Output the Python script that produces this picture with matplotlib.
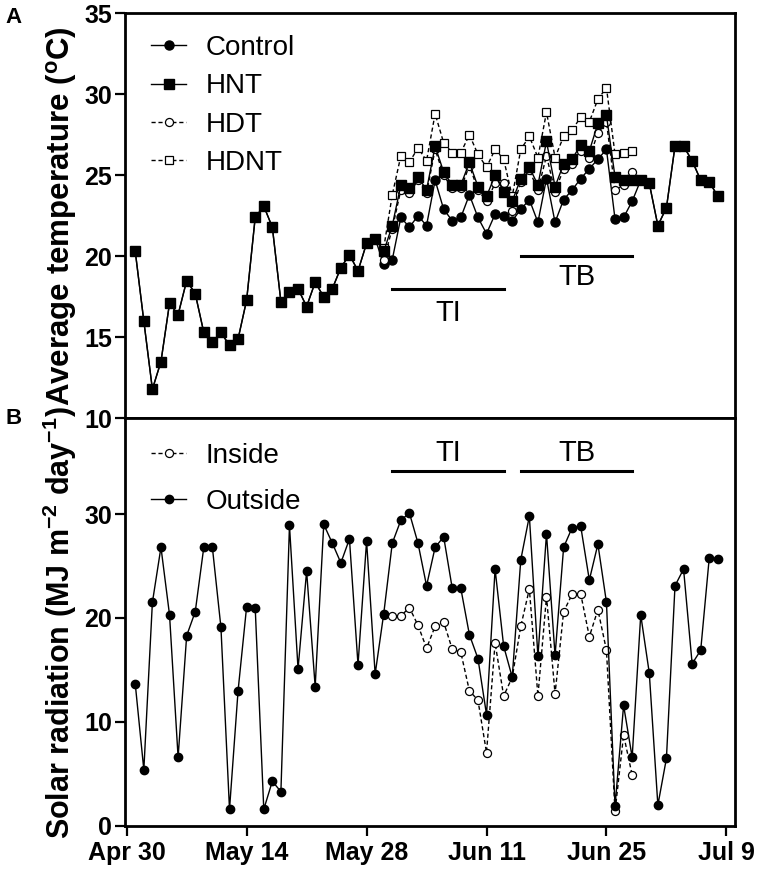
import matplotlib
matplotlib.use("Agg")
import matplotlib.pyplot as plt
import numpy as np

plt.rcParams['font.family'] = ['Liberation Sans', 'DejaVu Sans']
plt.rcParams['mathtext.fontset'] = 'custom'
plt.rcParams['mathtext.rm'] = 'Liberation Sans:bold'
plt.rcParams['mathtext.default'] = 'rm'

# days after Apr 30
tick_days = [0, 14, 28, 42, 56, 70]
tick_labels = ['Apr 30', 'May 14', 'May 28', 'Jun 11', 'Jun 25', 'Jul 9']

# average temperature, same for all chambers before and after treatments
days_pre = list(range(1, 30))
temp_pre = [20.3, 16.0, 11.8, 13.5, 17.1, 16.4, 18.5, 17.7, 15.3, 14.7,
            15.3, 14.5, 14.9, 17.3, 22.4, 23.1, 21.8, 17.2, 17.8, 18.0,
            16.9, 18.4, 17.5, 18.0, 19.3, 20.1, 19.1, 20.8, 21.1]
days_post = list(range(60, 70))
temp_post = [24.7, 24.5, 21.9, 23.0, 26.8, 26.8, 25.9, 24.7, 24.6, 23.7]

# treatment period (day 30-59)
days_trt = list(range(30, 60))
control = [19.5, 19.8, 22.4, 21.8, 22.5, 21.9, 24.7, 22.9, 22.2, 22.4,
           23.8, 22.4, 21.4, 22.6, 22.5, 22.2, 22.9, 23.5, 22.1, 24.8,
           22.1, 23.5, 24.1, 24.8, 25.4, 26.0, 26.6, 22.3, 22.4, 23.4]
hnt = [20.3, 21.9, 24.4, 24.2, 24.9, 24.1, 26.8, 25.2, 24.4, 24.4,
       25.8, 24.3, 23.7, 25.0, 24.0, 23.4, 24.8, 25.5, 24.4, 27.1,
       24.3, 25.7, 26.0, 26.9, 26.5, 28.2, 28.7, 24.9, 24.7, 24.7]
hdt = [19.8, 21.7, 24.1, 23.9, 24.7, 23.9, 26.6, 25.0, 24.2, 24.2,
       25.6, 24.1, 23.4, 24.5, 24.5, 22.8, 24.6, 25.3, 24.1, 26.2,
       24.0, 25.4, 25.7, 26.5, 26.1, 27.6, 28.3, 24.1, 24.4, 25.2]
hdnt = [20.5, 23.8, 26.2, 25.8, 26.7, 25.9, 28.8, 27.0, 26.4, 26.4,
        27.5, 26.3, 25.5, 26.6, 26.0, 23.7, 26.6, 27.4, 26.1, 28.9,
        26.1, 27.4, 27.8, 28.6, 28.3, 29.7, 30.4, 26.3, 26.4, 26.5]

# solar radiation (MJ m-2 day-1)
days_out = list(range(1, 70))
outside = [13.65, 5.4, 21.5, 26.8, 20.3, 6.6, 18.3, 20.6, 26.8, 26.8,
           19.1, 1.6, 13.0, 21.1, 21.0, 1.6, 4.3, 3.3, 28.9, 15.1,
           24.5, 13.4, 29.0, 27.2, 25.3, 27.6, 15.5, 27.4, 14.6, 20.4,
           27.2, 29.4, 30.1, 27.2, 23.1, 26.8, 27.8, 22.85, 22.85, 18.4,
           16.1, 10.7, 24.7, 17.3, 14.3, 25.6, 29.8, 16.3, 28.1, 16.4,
           26.8, 28.7, 28.8, 23.65, 27.1, 21.5, 1.9, 11.6, 6.6, 20.3,
           14.7, 2.0, 6.5, 23.1, 24.7, 15.6, 16.9, 25.8, 25.7]
days_in = list(range(30, 60))
inside = [20.3, 20.2, 20.2, 21.0, 19.3, 17.1, 19.2, 19.6, 17.0, 16.7,
          13.0, 12.1, 7.05, 17.6, 12.5, 14.3, 19.2, 22.8, 12.5, 22.05,
          12.7, 20.6, 22.3, 22.3, 18.2, 20.8, 16.9, 1.4, 8.75, 4.9]

# periods TI and TB
ti_span = (31, 44)
tb_span = (46, 59)

fig = plt.figure(figsize=(7.57, 8.71), dpi=100)
axA = fig.add_axes([0.1651, 0.5197, 0.8058, 0.465])
axB = fig.add_axes([0.1651, 0.0517, 0.8058, 0.468])

days_all = days_pre + days_trt + days_post
ms = 6.5
lw = 1.0
dash = (0, (3, 2))

axA.plot(days_all, temp_pre + control + temp_post, '-o', color='k', lw=lw,
         ms=ms, label='Control', zorder=2)
axA.plot(days_trt, hdt, linestyle=dash, marker='o', color='k', lw=lw, ms=5.8,
         mfc='white', mew=0.9, label='HDT', zorder=3)
axA.plot(days_trt, hdnt, linestyle=dash, marker='s', color='k', lw=lw, ms=6.2,
         mfc='white', mew=0.9, label='HDNT', zorder=3)
axA.plot(days_all, temp_pre + hnt + temp_post, '-s', color='k', lw=lw,
         ms=ms, label='HNT', zorder=4)

axB.plot(days_in, inside, linestyle=dash, marker='o', color='k', lw=lw,
         ms=5.8, mfc='white', mew=0.9, label='Inside', zorder=2)
axB.plot(days_out, outside, '-o', color='k', lw=lw, ms=6, label='Outside',
         zorder=3)

# treatment bars
axA.plot(ti_span, [18.0, 18.0], color='k', lw=2.2)
axA.text(np.mean(ti_span), 16.5, 'TI', ha='center', va='center', fontsize=21)
axA.plot(tb_span, [20.0, 20.0], color='k', lw=2.2)
axA.text(np.mean(tb_span), 18.75, 'TB', ha='center', va='center', fontsize=21)
axB.plot(ti_span, [34.1, 34.1], color='k', lw=2.2)
axB.text(np.mean(ti_span), 35.9, 'TI', ha='center', va='center', fontsize=21)
axB.plot(tb_span, [34.1, 34.1], color='k', lw=2.2)
axB.text(np.mean(tb_span), 35.9, 'TB', ha='center', va='center', fontsize=21)

for ax in (axA, axB):
    ax.set_xlim(-0.2, 71)
    ax.set_xticks(tick_days)
    for s in ax.spines.values():
        s.set_linewidth(2.0)
    ax.tick_params(length=7.5, width=1.6, labelsize=18, pad=2)

axA.set_ylim(10, 35)
axA.set_yticks([10, 15, 20, 25, 30, 35])
axA.set_xticklabels([])
axB.set_ylim(0, 39.2)
axB.set_yticks([0, 10, 20, 30])
axB.set_xticklabels(tick_labels, fontweight='bold')
axB.tick_params(axis='x', pad=3)
for ax in (axA, axB):
    for t in ax.get_yticklabels():
        t.set_fontweight('bold')

axA.set_ylabel('Average temperature ($^{o}$C)', fontsize=22.5, fontweight='bold')
axA.yaxis.set_label_coords(-0.076, 0.5)
axB.set_ylabel('Solar radiation (MJ m$^{-2}$ day$^{-1}$)', fontsize=22,
               fontweight='bold')
axB.yaxis.set_label_coords(-0.076, 0.5)

hA, lA = axA.get_legend_handles_labels()
order = [lA.index(n) for n in ['Control', 'HNT', 'HDT', 'HDNT']]
axA.legend([hA[i] for i in order], [lA[i] for i in order], loc='upper left',
           bbox_to_anchor=(0.043, 0.946), frameon=False, fontsize=20,
           handlelength=1.25, handletextpad=0.7, labelspacing=0.44,
           borderaxespad=0, borderpad=0)
axB.legend(loc='upper left', bbox_to_anchor=(0.043, 0.94), frameon=False,
           fontsize=20, handlelength=1.25, handletextpad=0.7,
           labelspacing=0.72, borderaxespad=0, borderpad=0)

fig.text(0.007, 0.992, 'A', fontsize=16, fontweight='bold', va='top')
fig.text(0.007, 0.532, 'B', fontsize=16, fontweight='bold', va='top')

fig.savefig('out.png', dpi=100)
